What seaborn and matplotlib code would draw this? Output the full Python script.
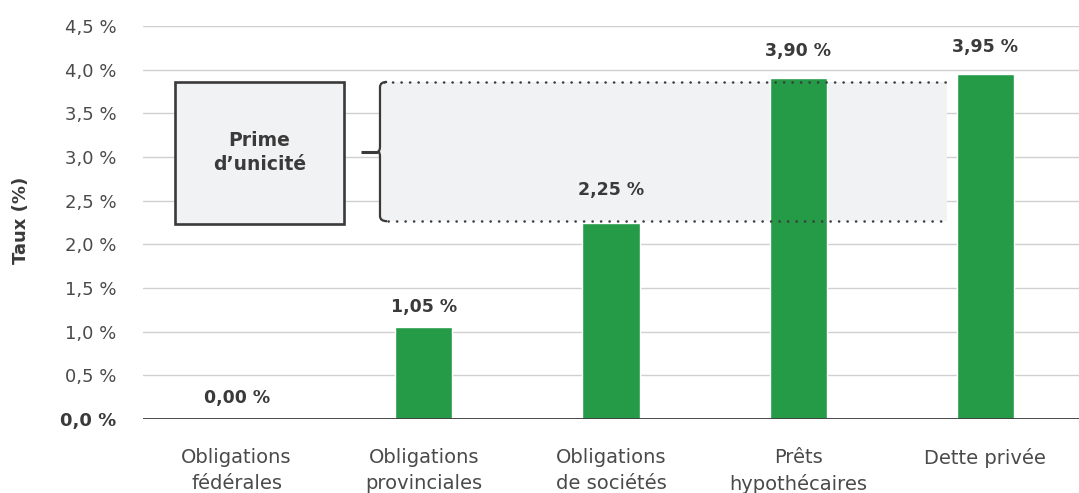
import matplotlib
matplotlib.use("Agg")
import matplotlib.pyplot as plt
from matplotlib.path import Path
from matplotlib.patches import PathPatch, Rectangle
import seaborn as sns
import pandas as pd

# ---- data ----
categories = ["Obligations\nfédérales", "Obligations\nprovinciales", "Obligations\nde sociétés",
              "Prêts\nhypothécaires", "Dette privée"]
rates = [0.00, 1.05, 2.25, 3.90, 3.95]
value_labels = ["0,00 %", "1,05 %", "2,25 %", "3,90 %", "3,95 %"]
y_ticks = [0.0, 0.5, 1.0, 1.5, 2.0, 2.5, 3.0, 3.5, 4.0, 4.5]
y_tick_labels = ["0,0 %", "0,5 %", "1,0 %", "1,5 %", "2,0 %", "2,5 %", "3,0 %", "3,5 %", "4,0 %", "4,5 %"]
premium_low = 2.265
premium_high = 3.86
box_text = "Prime\nd’unicité"
y_label = "Taux (%)"

# ---- styling ----
label_offsets_px = [21, 20, 32, 27, 27]
GREEN = "#259B48"
DARK = "#3a3a3a"
GREY_TXT = "#4a4a4a"
SHADE = "#F1F2F4"

sns.set_theme(style="white")
plt.rcParams["font.family"] = ["DejaVu Sans"]

fig = plt.figure(figsize=(10.79, 4.93), dpi=100)
ax = fig.add_axes([143 / 1079, 74 / 493, 1 - 143 / 1079, (419 - 26) / 493])

df = pd.DataFrame({"cat": categories, "rate": rates})
sns.barplot(data=df, x="cat", y="rate", color=GREEN, saturation=1, width=0.305, ax=ax, zorder=3)

ax.set_xlim(-0.5, 4.5)
ax.set_ylim(0, 4.5)

# gridlines
for yt in y_ticks[1:]:
    ax.axhline(yt, color="#d0d0d0", lw=1.0, zorder=0)
ax.axhline(0, color=DARK, lw=1.3, zorder=5)

for s in ax.spines.values():
    s.set_visible(False)

ax.set_yticks(y_ticks)
ax.set_yticklabels(y_tick_labels)
ax.tick_params(axis="y", length=0, pad=19, labelsize=13, labelcolor=GREY_TXT)
ax.tick_params(axis="x", length=0, pad=21, labelsize=14, labelcolor=GREY_TXT)
for t in ax.get_xticklabels():
    t.set_linespacing(1.45)
    t.set_verticalalignment("top")
yl = ax.get_yticklabels()
yl[0].set_fontweight("bold")
yl[0].set_color(DARK)

ax.set_xlabel("")
ax.set_ylabel(y_label, fontsize=13, fontweight="bold", color=DARK)
ax.yaxis.set_label_coords(-113 / 936, 0.505)

# shaded premium region
x_br = 0.766
x_end = 3.795
ax.add_patch(Rectangle((x_br, premium_low), x_end - x_br, premium_high - premium_low,
                       facecolor=SHADE, edgecolor="none", zorder=1))

# dotted lines
for yv, x0 in [(premium_high, 0.79), (premium_low, 0.81)]:
    ax.plot([x0, x_end + 0.005], [yv, yv], color=DARK, lw=1.8,
            linestyle=(0, (0.1, 3.3)), dash_capstyle="round", zorder=6)

# bracket
mid = (premium_high + premium_low) / 2
dy = 0.06
dx = 0.028
verts = [
    (x_br + dx + 0.01, premium_high), (x_br, premium_high), (x_br, premium_high - dy),
    (x_br, mid + dy), (x_br, mid), (x_br - 0.012, mid),
    (x_br, mid), (x_br, mid - dy),
    (x_br, premium_low + dy), (x_br, premium_low), (x_br + dx + 0.01, premium_low),
]
codes = [Path.MOVETO, Path.CURVE3, Path.CURVE3,
         Path.LINETO, Path.CURVE3, Path.CURVE3,
         Path.CURVE3, Path.CURVE3,
         Path.LINETO, Path.CURVE3, Path.CURVE3]
ax.add_patch(PathPatch(Path(verts, codes), facecolor="none", edgecolor=DARK, lw=1.6, zorder=6))
ax.plot([0.663, x_br - 0.01], [mid, mid], color=DARK, lw=2.2, solid_capstyle="butt", zorder=6)

# label box
bx0, bx1 = -0.329, 0.574
ax.add_patch(Rectangle((bx0, 2.231), bx1 - bx0, 3.856 - 2.231, facecolor=SHADE,
                       edgecolor=DARK, lw=1.9, zorder=4))
ax.text((bx0 + bx1) / 2, 3.05, box_text, ha="center", va="center", fontsize=13.5,
        fontweight="bold", color=DARK, linespacing=1.35, zorder=7)

# value labels
for i, (v, lab, off) in enumerate(zip(rates, value_labels, label_offsets_px)):
    ax.annotate(lab, (i, v), xytext=(0, off * 72 / 100), textcoords="offset points",
                ha="center", va="center", fontsize=12.5, fontweight="bold", color=DARK, zorder=7)

fig.savefig("out.png", dpi=100)
